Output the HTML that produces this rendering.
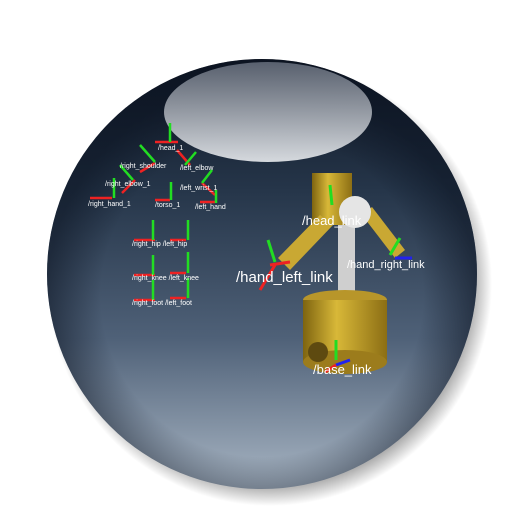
<!DOCTYPE html>
<html><head><meta charset="utf-8"><style>
html,body{margin:0;padding:0;background:#fff;width:512px;height:512px;overflow:hidden}
text{font-family:"Liberation Sans",sans-serif;fill:#fff}
</style></head><body>
<svg width="512" height="512" viewBox="0 0 512 512" xmlns="http://www.w3.org/2000/svg">
<defs>
<radialGradient id="shadow" cx="0.5" cy="0.5" r="0.5">
<stop offset="0.85" stop-color="#000" stop-opacity="0.55"/><stop offset="1" stop-color="#000" stop-opacity="0"/></radialGradient>
<linearGradient id="ball" x1="0" y1="0" x2="0" y2="1">
<stop offset="0" stop-color="#0e1522"/><stop offset="0.3" stop-color="#253549"/><stop offset="0.65" stop-color="#4f6178"/><stop offset="1" stop-color="#a9b6c4"/></linearGradient>
<radialGradient id="vig" cx="0.5" cy="0.55" r="0.5">
<stop offset="0.75" stop-color="#0a1220" stop-opacity="0"/><stop offset="1" stop-color="#0a1220" stop-opacity="0.55"/></radialGradient>
<linearGradient id="hl" x1="0" y1="0" x2="0" y2="1">
<stop offset="0" stop-color="#6a7280" stop-opacity="0.9"/><stop offset="1" stop-color="#f4f6f8" stop-opacity="0.95"/></linearGradient>
<linearGradient id="gold" x1="0" y1="0" x2="1" y2="0">
<stop offset="0" stop-color="#7e6410"/><stop offset="0.4" stop-color="#d8b838"/><stop offset="1" stop-color="#8c6e14"/></linearGradient>
</defs>
<circle cx="270" cy="284" r="222" fill="url(#shadow)"/>
<circle cx="262" cy="274" r="215" fill="url(#ball)"/>
<circle cx="262" cy="274" r="215" fill="url(#vig)"/>
<ellipse cx="268" cy="112" rx="104" ry="50" fill="url(#hl)" opacity="0.9"/>
<g stroke-width="2.5">
<g stroke="#e22"><line x1="155" y1="142" x2="178" y2="142"/><line x1="177" y1="150" x2="190" y2="165"/><line x1="140" y1="172" x2="155" y2="163"/><line x1="122" y1="193" x2="135" y2="180"/><line x1="90" y1="198" x2="112" y2="198"/><line x1="155" y1="200" x2="170" y2="200"/><line x1="202" y1="183" x2="215" y2="195"/><line x1="200" y1="202" x2="215" y2="202"/><line x1="134" y1="240" x2="155" y2="240"/><line x1="170" y1="240" x2="186" y2="240"/><line x1="134" y1="275" x2="155" y2="275"/><line x1="170" y1="273" x2="186" y2="273"/><line x1="134" y1="300" x2="155" y2="300"/><line x1="170" y1="298" x2="186" y2="298"/></g>
<g stroke="#2d2"><line x1="170" y1="123" x2="170" y2="142"/><line x1="140" y1="145" x2="155" y2="162"/><line x1="196" y1="152" x2="185" y2="165"/><line x1="120" y1="165" x2="133" y2="180"/><line x1="114" y1="178" x2="114" y2="198"/><line x1="171" y1="182" x2="171" y2="200"/><line x1="212" y1="170" x2="202" y2="183"/><line x1="216" y1="190" x2="216" y2="203"/><line x1="153" y1="220" x2="153" y2="240"/><line x1="188" y1="220" x2="188" y2="240"/><line x1="153" y1="255" x2="153" y2="275"/><line x1="188" y1="252" x2="188" y2="273"/><line x1="153" y1="280" x2="153" y2="300"/><line x1="188" y1="278" x2="188" y2="298"/></g>
<text font-size="7" x="158" y="150">/head_1</text><text font-size="7" x="120" y="168">/right_shoulder</text><text font-size="7" x="180" y="170">/left_elbow</text><text font-size="7" x="105" y="186">/right_elbow_1</text><text font-size="7" x="180" y="190">/left_wrist_1</text><text font-size="7" x="88" y="206">/right_hand_1</text><text font-size="7" x="155" y="207">/torso_1</text><text font-size="7" x="195" y="209">/left_hand</text><text font-size="7" x="132" y="246">/right_hip /left_hip</text><text font-size="7" x="132" y="280">/right_knee /left_knee</text><text font-size="7" x="132" y="305">/right_foot /left_foot</text>
</g>
<g>
<rect x="338" y="210" width="17" height="92" fill="#cfcfcf"/>
<rect x="312" y="173" width="40" height="52" fill="url(#gold)"/>
<polygon points="320,215 333,225 290,270 278,258" fill="#c9a833"/>
<polygon points="362,215 372,207 405,250 395,258" fill="#c9a833"/>
<circle cx="355" cy="212" r="16" fill="#e5e5e5"/>
<ellipse cx="345" cy="300" rx="42" ry="10" fill="#b8962a"/>
<rect x="303" y="300" width="84" height="62" fill="url(#gold)"/>
<ellipse cx="345" cy="362" rx="42" ry="12" fill="#9c7c1c"/>
<circle cx="318" cy="352" r="10" fill="#5e4a10"/>
<g stroke-width="3"><line x1="270" y1="265" x2="290" y2="262" stroke="#e22"/><line x1="275" y1="265" x2="260" y2="290" stroke="#e22"/><line x1="275" y1="262" x2="268" y2="240" stroke="#2d2"/><line x1="330" y1="185" x2="332" y2="205" stroke="#2d2"/><line x1="390" y1="255" x2="400" y2="238" stroke="#2d2"/><line x1="395" y1="258" x2="412" y2="258" stroke="#22e"/><line x1="336" y1="360" x2="336" y2="340" stroke="#2d2"/><line x1="336" y1="365" x2="350" y2="360" stroke="#22e"/><line x1="336" y1="365" x2="325" y2="372" stroke="#e22"/></g>
<text font-size="13" x="302" y="225">/head_link</text>
<text font-size="15" x="236" y="282">/hand_left_link</text>
<text font-size="11" x="347" y="268">/hand_right_link</text>
<text font-size="13" x="313" y="374">/base_link</text>
</g>
</svg>
</body></html>
